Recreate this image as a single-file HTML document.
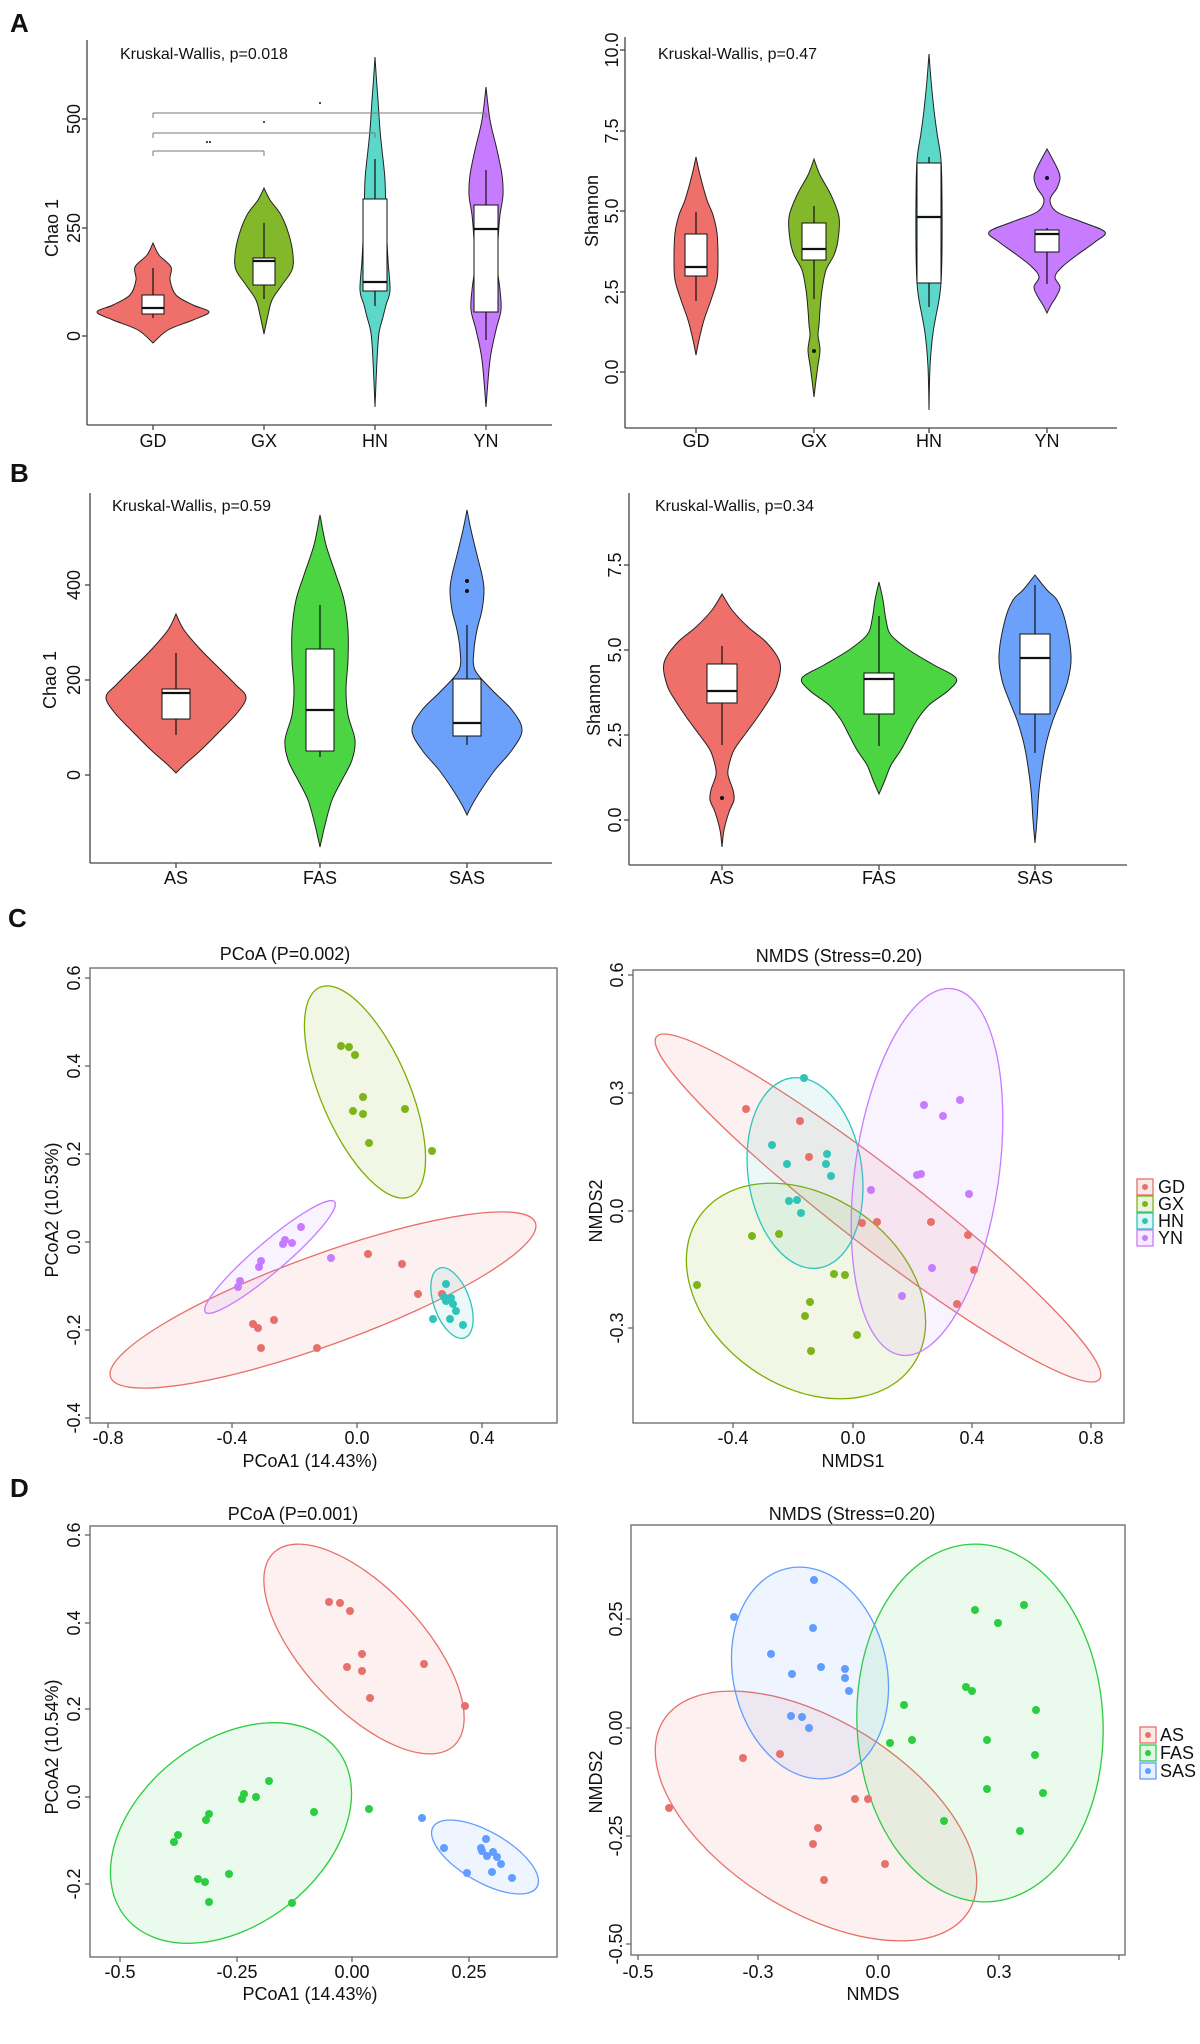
<!DOCTYPE html>
<html><head><meta charset="utf-8"><style>
html,body{margin:0;padding:0;background:#fff}
svg{display:block}
text{font-family:"Liberation Sans",Arial,sans-serif;fill:#111}
.tk{font-size:18px}
.pl{font-size:26px;font-weight:bold}
</style></head><body>
<svg id="s" width="1200" height="2044" viewBox="0 0 1200 2044" xmlns="http://www.w3.org/2000/svg">
<defs>
<clipPath id="cC1"><rect x="90" y="968" width="467" height="455"/></clipPath>
<clipPath id="cC2"><rect x="633" y="970" width="491" height="453"/></clipPath>
<clipPath id="cD1"><rect x="90" y="1526" width="467" height="431"/></clipPath>
<clipPath id="cD2"><rect x="631" y="1525" width="494" height="430"/></clipPath>
</defs>
<rect width="1200" height="2044" fill="#fff"/>
<g id="g"></g>
<!-- panel letters -->
<text class="pl" x="10" y="32">A</text>
<text class="pl" x="10" y="482">B</text>
<text class="pl" x="8" y="927">C</text>
<text class="pl" x="10" y="1497">D</text>
<!-- A texts -->
<text x="120" y="59" font-size="16">Kruskal-Wallis, p=0.018</text>
<text x="658" y="59" font-size="16">Kruskal-Wallis, p=0.47</text>
<g class="tk" text-anchor="middle">
<text x="153" y="447">GD</text><text x="264" y="447">GX</text><text x="375" y="447">HN</text><text x="486" y="447">YN</text>
<text x="696" y="447">GD</text><text x="814" y="447">GX</text><text x="929" y="447">HN</text><text x="1047" y="447">YN</text>
<text transform="translate(80,336) rotate(-90)">0</text>
<text transform="translate(80,228) rotate(-90)">250</text>
<text transform="translate(80,119) rotate(-90)">500</text>
<text transform="translate(618,372) rotate(-90)">0.0</text>
<text transform="translate(618,292) rotate(-90)">2.5</text>
<text transform="translate(618,211) rotate(-90)">5.0</text>
<text transform="translate(618,131) rotate(-90)">7.5</text>
<text transform="translate(618,50) rotate(-90)">10.0</text>
<text transform="translate(58,228) rotate(-90)">Chao 1</text>
<text transform="translate(598,211) rotate(-90)">Shannon</text>
</g>
<!-- B texts -->
<text x="112" y="511" font-size="16">Kruskal-Wallis, p=0.59</text>
<text x="655" y="511" font-size="16">Kruskal-Wallis, p=0.34</text>
<g class="tk" text-anchor="middle">
<text x="176" y="884">AS</text><text x="320" y="884">FAS</text><text x="467" y="884">SAS</text>
<text x="722" y="884">AS</text><text x="879" y="884">FAS</text><text x="1035" y="884">SAS</text>
<text transform="translate(80,775) rotate(-90)">0</text>
<text transform="translate(80,680) rotate(-90)">200</text>
<text transform="translate(80,585) rotate(-90)">400</text>
<text transform="translate(621,820) rotate(-90)">0.0</text>
<text transform="translate(621,735) rotate(-90)">2.5</text>
<text transform="translate(621,650) rotate(-90)">5.0</text>
<text transform="translate(621,565) rotate(-90)">7.5</text>
<text transform="translate(56,680) rotate(-90)">Chao 1</text>
<text transform="translate(600,700) rotate(-90)">Shannon</text>
</g>
<!-- C texts -->
<g class="tk" text-anchor="middle">
<text x="285" y="960">PCoA (P=0.002)</text>
<text x="839" y="962">NMDS (Stress=0.20)</text>
<text x="108" y="1444">-0.8</text><text x="232" y="1444">-0.4</text><text x="357" y="1444">0.0</text><text x="482" y="1444">0.4</text>
<text x="310" y="1467">PCoA1 (14.43%)</text>
<text transform="translate(80,978) rotate(-90)">0.6</text>
<text transform="translate(80,1066) rotate(-90)">0.4</text>
<text transform="translate(80,1154) rotate(-90)">0.2</text>
<text transform="translate(80,1242) rotate(-90)">0.0</text>
<text transform="translate(80,1330) rotate(-90)">-0.2</text>
<text transform="translate(80,1418) rotate(-90)">-0.4</text>
<text transform="translate(58,1210) rotate(-90)">PCoA2 (10.53%)</text>
<text x="733" y="1444">-0.4</text><text x="853" y="1444">0.0</text><text x="972" y="1444">0.4</text><text x="1091" y="1444">0.8</text>
<text x="853" y="1467">NMDS1</text>
<text transform="translate(623,975) rotate(-90)">0.6</text>
<text transform="translate(623,1093) rotate(-90)">0.3</text>
<text transform="translate(623,1211) rotate(-90)">0.0</text>
<text transform="translate(623,1328) rotate(-90)">-0.3</text>
<text transform="translate(602,1211) rotate(-90)">NMDS2</text>
</g>
<g class="tk">
<text x="1158" y="1193">GD</text><text x="1158" y="1210">GX</text><text x="1158" y="1227">HN</text><text x="1158" y="1244">YN</text>
</g>
<!-- D texts -->
<g class="tk" text-anchor="middle">
<text x="293" y="1520">PCoA (P=0.001)</text>
<text x="852" y="1520">NMDS (Stress=0.20)</text>
<text x="120" y="1978">-0.5</text><text x="237" y="1978">-0.25</text><text x="352" y="1978">0.00</text><text x="469" y="1978">0.25</text>
<text x="310" y="2000">PCoA1 (14.43%)</text>
<text transform="translate(80,1535) rotate(-90)">0.6</text>
<text transform="translate(80,1623) rotate(-90)">0.4</text>
<text transform="translate(80,1709) rotate(-90)">0.2</text>
<text transform="translate(80,1797) rotate(-90)">0.0</text>
<text transform="translate(80,1884) rotate(-90)">-0.2</text>
<text transform="translate(58,1747) rotate(-90)">PCoA2 (10.54%)</text>
<text x="638" y="1978">-0.5</text><text x="758" y="1978">-0.3</text><text x="878" y="1978">0.0</text><text x="999" y="1978">0.3</text>
<text x="873" y="2000">NMDS</text>
<text transform="translate(622,1619) rotate(-90)">0.25</text>
<text transform="translate(622,1728) rotate(-90)">0.00</text>
<text transform="translate(622,1836) rotate(-90)">-0.25</text>
<text transform="translate(622,1944) rotate(-90)">-0.50</text>
<text transform="translate(602,1782) rotate(-90)">NMDS2</text>
</g>
<g class="tk">
<text x="1160" y="1741">AS</text><text x="1160" y="1759">FAS</text><text x="1160" y="1777">SAS</text>
</g>
</svg>
<script>
var NS="http://www.w3.org/2000/svg",G=document.getElementById("g");
function el(t,a,p){var e=document.createElementNS(NS,t);for(var k in a)e.setAttribute(k,a[k]);(p||G).appendChild(e);return e;}
function line(x1,y1,x2,y2,c,w){el("line",{x1:x1,y1:y1,x2:x2,y2:y2,stroke:c||"#444","stroke-width":w||1.3});}
function spline(pts){var d="M"+pts[0][0]+","+pts[0][1];for(var i=0;i<pts.length-1;i++){var p0=pts[i-1]||pts[i],p1=pts[i],p2=pts[i+1],p3=pts[i+2]||p2;
d+=" C"+(p1[0]+(p2[0]-p0[0])/6)+","+(p1[1]+(p2[1]-p0[1])/6)+" "+(p2[0]-(p3[0]-p1[0])/6)+","+(p2[1]-(p3[1]-p1[1])/6)+" "+p2[0]+","+p2[1];}return d;}
function violin(cx,prof,col,box){
 var r=prof.map(function(p){return [cx+p[1],p[0]];}),l=prof.slice().reverse().map(function(p){return [cx-p[1],p[0]];});
 el("path",{d:spline(r)+" L"+spline(l).slice(1)+"Z",fill:col,stroke:"#222","stroke-width":1});
 line(cx,box[3],cx,box[4],"#111",1.2);
 el("rect",{x:cx-box[5],y:box[0],width:2*box[5],height:box[1]-box[0],fill:"#fff",stroke:"#111","stroke-width":1});
 line(cx-box[5],box[2],cx+box[5],box[2],"#111",2.2);
}
function dot(x,y,r){el("circle",{cx:x,cy:y,r:r||2,fill:"#111"});}
// A axes
line(87,40,87,425);line(87,425,552,425);
[336,228,119].forEach(function(y){line(82,y,87,y)});[153,264,375,486].forEach(function(x){line(x,425,x,430)});
line(625,37,625,428);line(625,428,1117,428);
[372,292,211,131,50].forEach(function(y){line(620,y,625,y)});[696,814,929,1047].forEach(function(x){line(x,428,x,433)});
// A left violins
violin(153,[[243,0],[255,6],[267,18],[280,17],[295,23],[305,40],[312,56],[320,40],[330,15],[343,0]],"#EF6F6A",[295,314,308,268,318,11]);
violin(264,[[188,0],[200,6],[215,17],[235,25],[255,29],[270,28],[285,18],[300,8],[315,4],[334,0]],"#82B82A",[258,285,261,223,299,11]);
violin(375,[[57,0],[80,1.5],[100,3],[130,5],[150,7],[180,10],[220,11],[260,13],[290,15],[305,11],[317,8],[333,4],[360,2],[407,0]],"#5CD8CB",[199,291,282,159,306,12]);
violin(486,[[87,0],[120,4],[150,11],[175,16],[195,17],[215,14],[240,12],[265,11],[290,14],[310,15],[330,10],[360,4],[407,0]],"#C77CFF",[205,312,229,170,340,12]);
// significance brackets
[[151,264],[133,375],[113,486]].forEach(function(b){line(153,b[0]+5,153,b[0],"#777",1);line(153,b[0],b[1],b[0],"#777",1);line(b[1],b[0],b[1],b[0]+5,"#777",1);});
dot(207,142,1);dot(210,142,1);dot(264,122,1);dot(320,103,1);
// A right violins
violin(696,[[157,0],[175,4],[200,11],[215,17],[233,21],[260,22],[280,21],[300,15],[320,8],[340,3],[355,0]],"#EF6F6A",[234,276,267,212,301,11]);
violin(814,[[159,0],[175,6],[195,17],[217,25],[240,24],[255,20],[270,12],[290,8],[310,6],[325,5],[335,4],[350,6],[365,4],[380,2],[397,0]],"#82B82A",[223,260,249,206,299,12]);
dot(814,351);
violin(929,[[54,0],[80,2],[110,5],[133,8],[160,12],[200,13],[250,13],[283,12],[300,10],[333,4],[367,1],[410,0]],"#5CD8CB",[163,283,217,157,307,12]);
violin(1047,[[149,0],[160,6],[170,11],[178,13],[188,10],[200,3],[212,10],[222,35],[232,58],[242,48],[255,30],[267,15],[277,8],[287,13],[297,9],[305,4],[313,0]],"#C77CFF",[230,252,234,228,284,12]);
dot(1047,178);
// B axes
line(90,493,90,863);line(90,863,552,863);
[775,680,585].forEach(function(y){line(85,y,90,y)});[176,320,467].forEach(function(x){line(x,863,x,868)});
line(629,493,629,865);line(629,865,1127,865);
[820,735,650,565].forEach(function(y){line(624,y,629,y)});[722,879,1035].forEach(function(x){line(x,865,x,870)});
violin(176,[[614,0],[630,8],[650,25],[670,45],[685,60],[697,70],[712,62],[730,45],[750,25],[765,8],[773,0]],"#EF6F6A",[689,719,693,653,735,14]);
violin(320,[[515,0],[545,6],[575,16],[600,24],[630,28],[660,28],[690,26],[715,28],[740,35],[760,32],[780,22],[800,12],[825,5],[847,0]],"#4CD542",[649,751,710,605,757,14]);
violin(467,[[510,0],[530,4],[555,10],[575,15],[590,17],[610,15],[630,10],[650,7],[670,8],[690,25],[710,45],[730,55],[750,45],[770,28],[790,14],[805,5],[815,0]],"#6BA1FA",[679,736,723,625,745,14]);
dot(467,581);dot(467,591);
violin(722,[[594,0],[610,10],[627,26],[643,45],[663,58],[685,55],[700,47],[718,35],[733,24],[750,12],[765,7],[775,6],[790,11],[800,12],[812,7],[830,2],[847,0]],"#EF6F6A",[664,703,691,646,745,15]);
dot(722,798);
violin(879,[[582,0],[600,4],[620,7],[635,12],[650,30],[665,55],[678,77],[690,70],[705,50],[720,38],[735,30],[750,22],[765,12],[780,6],[794,0]],"#4CD542",[673,714,679,616,746,15]);
violin(1035,[[575,0],[590,12],[600,22],[620,30],[655,36],[680,33],[700,26],[720,18],[740,12],[760,8],[790,4],[820,2],[843,0]],"#6BA1FA",[634,714,658,585,753,15]);
// ordination frames
function frame(x,y,w,h,xt,yt){el("rect",{x:x,y:y,width:w,height:h,fill:"none",stroke:"#666","stroke-width":1.3});
 xt.forEach(function(t){line(t,y+h,t,y+h+5,"#666")});yt.forEach(function(t){line(x-5,t,x,t,"#666")});}
function ell(cx,cy,rx,ry,a,col,clip){var g=el("g",{"clip-path":"url(#"+clip+")"});el("ellipse",{cx:cx,cy:cy,rx:rx,ry:ry,transform:"rotate("+a+" "+cx+" "+cy+")",fill:col,"fill-opacity":0.1,stroke:col,"stroke-width":1.3},g);}
function pts(arr,col,r){arr.forEach(function(p){el("circle",{cx:p[0],cy:p[1],r:r||4,fill:col})});}
var R="#E8706A",GR="#7CAE00",T="#2EC4BA",P="#C77CFF",B="#619CFF",GN="#2ECC40";
// C left
frame(90,968,467,455,[108,232,357,482],[978,1066,1154,1242,1330,1418]);
ell(323,1300,226,45,-20,R,"cC1");ell(365,1092,114,44,66.7,GR,"cC1");ell(270,1257,85,15,-40.5,P,"cC1");ell(452,1303,37,18,70,T,"cC1");
pts([[341,1046],[349,1047],[355,1055],[363,1097],[353,1111],[363,1114],[405,1109],[369,1143],[432,1151]],"#7CB518");
pts([[368,1254],[402,1264],[418,1294],[442,1294],[253,1324],[258,1328],[274,1320],[261,1348],[317,1348]],R);
pts([[240,1281],[238,1287],[259,1267],[261,1261],[283,1244],[285,1240],[292,1243],[301,1227],[331,1258]],P);
pts([[446,1284],[446,1301],[451,1298],[453,1304],[456,1311],[433,1319],[450,1319],[463,1325],[444,1297]],T);
// C right
frame(633,970,491,453,[733,853,972,1091],[975,1093,1211,1328]);
ell(878,1208,280,39,37.7,R,"cC2");ell(806,1291,130,95,35,GR,"cC2");ell(805,1173,57,96,-8,T,"cC2");ell(927,1172,185,72,98,P,"cC2");
pts([[746,1109],[800,1121],[809,1157],[862,1223],[877,1222],[931,1222],[968,1235],[974,1270],[957,1304]],R);
pts([[804,1078],[772,1145],[787,1164],[827,1154],[826,1164],[831,1176],[789,1201],[797,1200],[801,1213]],T);
pts([[924,1105],[960,1100],[943,1116],[917,1175],[921,1174],[871,1190],[969,1194],[932,1268],[902,1296]],P);
pts([[752,1236],[779,1234],[697,1285],[834,1274],[845,1275],[810,1302],[805,1316],[857,1335],[811,1351]],"#7CB518");
// C legend
[[R,1187],["#7CB518",1204],[T,1221],[P,1238]].forEach(function(k){el("rect",{x:1137,y:k[1]-8,width:16,height:16,fill:k[0],"fill-opacity":0.15,stroke:k[0],"stroke-width":1.3});el("circle",{cx:1145,cy:k[1],r:3,fill:k[0]});});
// D left
frame(90,1526,467,431,[120,237,352,469],[1535,1623,1709,1797,1884]);
ell(364,1649,132,60,47,R,"cD1");ell(231,1833,135,92,-38,GN,"cD1");ell(485,1857,60,25,30,B,"cD1");
pts([[329,1602],[340,1603],[350,1611],[362,1654],[347,1667],[362,1671],[424,1664],[370,1698],[465,1706]],R);
pts([[269,1781],[244,1794],[242,1799],[256,1797],[209,1814],[206,1820],[178,1835],[174,1842],[314,1812],[369,1809],[198,1879],[205,1882],[229,1874],[209,1902],[292,1903]],GN);
pts([[422,1818],[444,1848],[486,1839],[481,1848],[482,1851],[493,1852],[487,1856],[497,1857],[501,1864],[467,1873],[492,1872],[512,1878]],B);
// D right
frame(631,1525,494,430,[638,758,878,999,1119],[1619,1728,1836,1944]);
ell(816,1816,180,95,32,R,"cD2");ell(980,1723,123,179,-3,GN,"cD2");ell(810,1673,77,107,-12,B,"cD2");
pts([[814,1580],[734,1617],[813,1628],[771,1654],[792,1674],[821,1667],[845,1669],[845,1678],[849,1691],[791,1716],[802,1717],[809,1728]],B);
pts([[743,1758],[780,1754],[669,1808],[855,1799],[868,1799],[818,1828],[813,1844],[885,1864],[824,1880]],R);
pts([[975,1610],[1024,1605],[998,1623],[966,1687],[972,1691],[904,1705],[1036,1710],[890,1743],[912,1740],[987,1740],[1035,1755],[987,1789],[1043,1793],[944,1821],[1020,1831]],GN);
[[R,1735],[GN,1753],[B,1771]].forEach(function(k){el("rect",{x:1140,y:k[1]-8,width:16,height:16,fill:k[0],"fill-opacity":0.15,stroke:k[0],"stroke-width":1.3});el("circle",{cx:1148,cy:k[1],r:3,fill:k[0]});});
</script>
</body></html>
